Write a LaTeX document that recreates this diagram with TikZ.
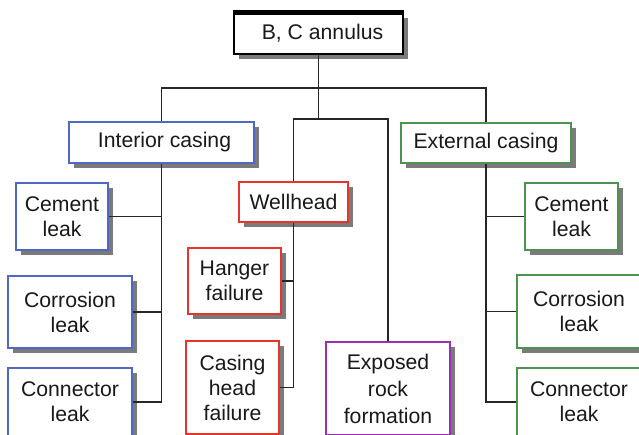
\documentclass[tikz,border=0pt]{standalone}
\usepackage{fontspec}
\setmainfont{Liberation Sans}
\usetikzlibrary{shadows}
\definecolor{cblue}{HTML}{4F68C6}
\definecolor{cred}{HTML}{E8342C}
\definecolor{cgreen}{HTML}{4E9150}
\definecolor{cpurple}{HTML}{9A2FB5}
\definecolor{shade}{HTML}{7A7A7A}
\tikzset{
  box/.style={draw=#1, fill=white, line width=1.2pt, inner sep=0pt, align=center,
    font=\fontsize{21.2}{25}\selectfont, text=black!90,
    drop shadow={shadow xshift=4.5pt, shadow yshift=-4.5pt, fill=shade, opacity=1}},
  link/.style={draw=black!85, line width=1.3pt}
}
\begin{document}
\begin{tikzpicture}[x=1pt,y=-1pt]
\useasboundingbox (0,0) rectangle (639,434);
\clip (0,0) rectangle (639,434);
% top
\node[box=black, minimum width=169pt, minimum height=41pt] (top) at (318.5,33.5) {\hspace*{8pt}B, C annulus};
\draw[black, line width=5pt] ([xshift=-0.6pt]top.north west) -- ([xshift=0.6pt]top.north east);
% level 2
\node[box=cblue, minimum width=185pt, minimum height=41pt] (ic) at (161.5,142.5) {\hspace*{6pt}Interior casing};
\node[box=cgreen, minimum width=170pt, minimum height=40pt] (ec) at (486,143) {External casing};
\node[box=cred, minimum width=109pt, minimum height=40pt] (wh) at (293.5,202) {Wellhead};
\node[box=cpurple, minimum width=124pt, minimum height=93pt, font=\fontsize{21.2}{27}\selectfont] (rock) at (388,388.5) {Exposed\\rock\\formation};
% interior
\node[box=cblue, minimum width=92pt, minimum height=67pt] (cm1) at (62,216.5) {Cement\\leak};
\node[box=cblue, minimum width=124pt, minimum height=72pt] (co1) at (70,312) {Corrosion\\leak};
\node[box=cblue, minimum width=124pt, minimum height=68pt] (cn1) at (70,402) {Connector\\leak};
% wellhead
\node[box=cred, minimum width=93pt, minimum height=66pt] (hf) at (234.5,281) {Hanger\\failure};
\node[box=cred, minimum width=93pt, minimum height=93pt] (chf) at (232.5,387.5) {Casing\\head\\failure};
% external
\node[box=cgreen, minimum width=93pt, minimum height=67pt] (cm2) at (571.5,216.5) {Cement\\leak};
\node[box=cgreen, minimum width=124pt, minimum height=73pt] (co2) at (579,311.5) {Corrosion\\leak};
\node[box=cgreen, minimum width=124pt, minimum height=68pt] (cn2) at (579,402) {Connector\\leak};
% connectors
\coordinate (bus1) at (top.south |- 0,88);
\coordinate (bus2) at (top.south |- 0,119);
\draw[link] (top.south) -- (bus2);
\draw[link] (ic.north) |- (bus1) -| (ec.north);
\draw[link] (wh.north) |- (bus2) -| (rock.north);
\draw[link] (ic.south) |- (cn1.east);
\draw[link] (cm1.east) -- (cm1.east -| ic.south);
\draw[link] (co1.east) -- (co1.east -| ic.south);
\draw[link] (wh.south) |- (chf.east);
\draw[link] (hf.east) -- (hf.east -| wh.south);
\draw[link] (ec.south) |- (cn2.west);
\draw[link] (cm2.west) -- (cm2.west -| ec.south);
\draw[link] (co2.west) -- (co2.west -| ec.south);
\end{tikzpicture}
\end{document}
